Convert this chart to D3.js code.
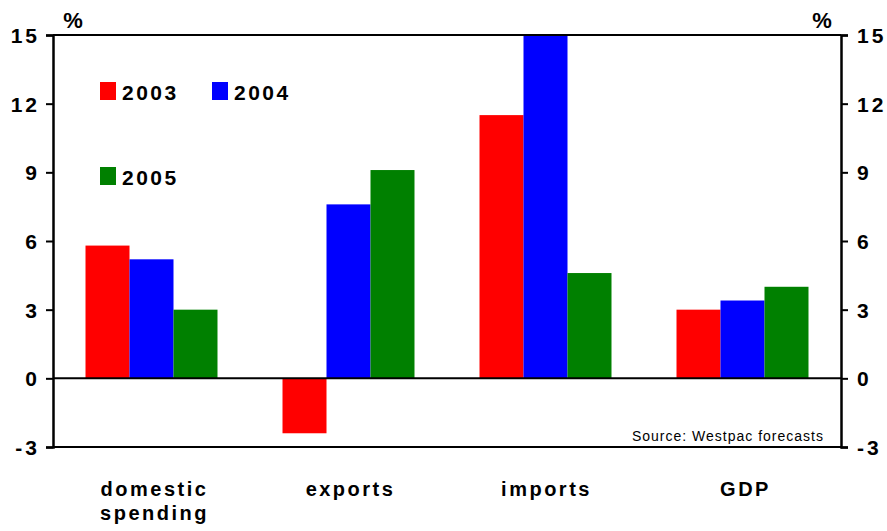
<!DOCTYPE html>
<html><head><meta charset="utf-8">
<script src="https://cdn.jsdelivr.net/npm/d3@7"></script>
<style>body{margin:0;background:#fff}svg{display:block}text{font-family:Arial,"Liberation Sans",sans-serif}</style>
</head><body><svg id="c" width="887" height="531"></svg>
<script>
const categories = [["domestic","spending"],["exports"],["imports"],["GDP"]];
const seriesNames = ["2003","2004","2005"];
const seriesColors = ["#ff0000","#0000ff","#008000"];
const v2003 = [5.8, -2.4, 11.5, 3.0];
const v2004 = [5.2, 7.6, 15.0, 3.4];
const v2005 = [3.0, 9.1, 4.6, 4.0];
const yTicks = [-3, 0, 3, 6, 9, 12, 15];
const series = [v2003, v2004, v2005];

const svg = d3.select("#c");
const L = 53, R = 841, T = 35, B = 447;
const x = d3.scaleBand().domain(d3.range(categories.length)).range([L, R]).paddingInner(0.33).paddingOuter(0.165);
const xs = d3.scaleBand().domain(d3.range(series.length)).range([0, x.bandwidth()]);
const y = d3.scaleLinear().domain([-3, 15]).range([B, T]);

// bars
series.forEach((vals, si) => {
  svg.append("g").selectAll("rect").data(vals).join("rect")
    .attr("x", (d, i) => x(i) + xs(si))
    .attr("width", xs.bandwidth())
    .attr("y", d => y(Math.max(0, d)))
    .attr("height", d => Math.abs(y(d) - y(0)))
    .attr("fill", seriesColors[si]);
});

// frame lines
const line = (x1, y1, x2, y2) => svg.append("line").attr("x1", x1).attr("y1", y1).attr("x2", x2).attr("y2", y2).attr("stroke", "#000").attr("stroke-width", 2);
line(L, y(15), R, y(15));
line(L, y(-3), R, y(-3));
line(L, y(0), R, y(0));

const la = svg.append("g").attr("transform", `translate(${L},0)`).call(d3.axisLeft(y).tickValues(yTicks).tickSize(7).tickPadding(6).tickFormat(d => String(d)));
const ra = svg.append("g").attr("transform", `translate(${R},0)`).call(d3.axisRight(y).tickValues(yTicks).tickSize(7).tickPadding(9).tickFormat(d => String(d)));
[la, ra].forEach(a => {
  a.select(".domain").attr("stroke-width", 2.5);
  a.selectAll(".tick line").attr("stroke-width", 2);
  a.selectAll("text").attr("font-size", 21).attr("font-weight", "bold").attr("fill", "#000").attr("dy", "0.36em").attr("letter-spacing", 3);
});

svg.append("text").attr("x", 73).attr("y", 28).attr("text-anchor", "middle").attr("font-size", 22).attr("font-weight", "bold").text("%");
svg.append("text").attr("x", 822).attr("y", 28).attr("text-anchor", "middle").attr("font-size", 22).attr("font-weight", "bold").text("%");

// category labels
const catOffsets = [3, 2, 1, 3];
categories.forEach((lines, i) => {
  lines.forEach((t, j) => {
    svg.append("text").attr("x", x(i) + x.bandwidth() / 2 + catOffsets[i]).attr("y", 496 + j * 24)
      .attr("text-anchor", "middle").attr("font-size", 20).attr("font-weight", "bold")
      .attr("letter-spacing", 2.5).text(t);
  });
});

// legend
const legPos = [[100, 82], [212, 82], [100, 167]];
seriesNames.forEach((n, i) => {
  const [lx, ly] = legPos[i];
  svg.append("rect").attr("x", lx).attr("y", ly).attr("width", 16).attr("height", 18).attr("fill", seriesColors[i]);
  svg.append("text").attr("x", lx + 22).attr("y", ly + 18).attr("font-size", 21).attr("font-weight", "bold").attr("letter-spacing", 2.5).text(n);
});

svg.append("text").attr("x", 824).attr("y", 441).attr("text-anchor", "end").attr("font-size", 14).attr("letter-spacing", 1).text("Source: Westpac forecasts");
</script></body></html>
